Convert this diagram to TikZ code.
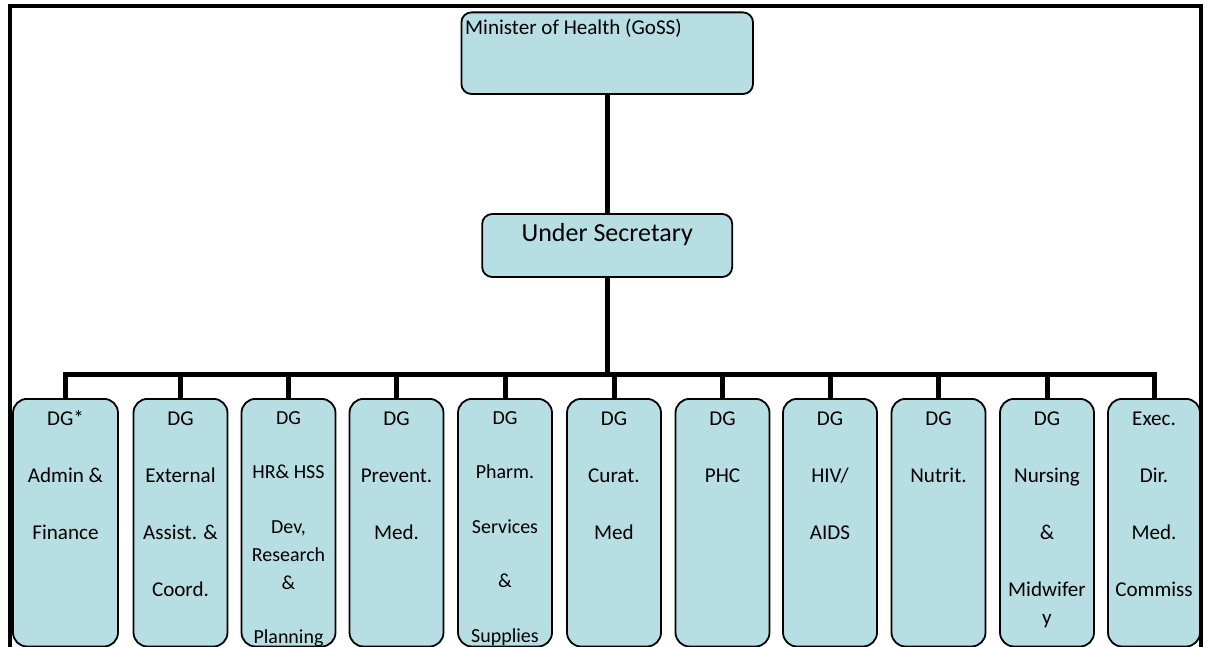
\documentclass[tikz,border=0pt]{standalone}
\usepackage{fontspec}
\setmainfont{Carlito}
\usepackage{xcolor}
\definecolor{orgFill}{HTML}{B7DEE2}
\tikzset{
  orgBox/.style={draw=black, fill=orgFill, line width=0.045cm, rounded corners=0.25cm, inner sep=0pt},
  dgBox/.style={orgBox, rounded corners=0.35cm, anchor=north, minimum width=2.35cm, font=\fontsize{15pt}{0.7cm}\selectfont},
  smallText/.style={font=\fontsize{14.2pt}{0.7cm}\selectfont},
  linkLine/.style={line width=0.125cm},
}

\begin{document}
\begin{tikzpicture}
  \useasboundingbox (0cm,0cm) rectangle (30.175cm,-16.175cm);
  \clip (0cm,0cm) rectangle (30.175cm,-16.175cm);
  % top levels
  \node[orgBox, minimum width=7.29cm, minimum height=2.04cm] (moh) at (15.18cm,-1.33cm) {\parbox[c][2.04cm][t]{7.1cm}{\fontsize{15pt}{18pt}\selectfont\rule{0pt}{0.5625cm}Minister of Health (GoSS)}};
  \node[orgBox, minimum width=6.25cm, minimum height=1.575cm] (us) at (15.18cm,-6.1375cm) {\parbox[c][1.575cm][t]{6cm}{\centering\fontsize{18.5pt}{22pt}\selectfont\rule{0pt}{0.6875cm}Under Secretary}};
  \coordinate (bar) at (15.18cm,-9.35cm);
  % directorates
  \node[dgBox, minimum width=2.625cm] (dgAdmin) at (1.6375cm,-9.95cm) {\parbox[c][6.19cm][t]{2.2cm}{\centering\rule{0pt}{0.66cm}DG*\\[0.725cm] Admin \&\\[0.725cm] Finance}};
  \node[dgBox] (dgExternal) at (4.5125cm,-9.95cm) {\parbox[c][6.19cm][t]{2.2cm}{\centering\rule{0pt}{0.66cm}DG\\[0.725cm] External\\[0.725cm] Assist. \&\\[0.725cm] Coord.}};
  \node[dgBox, smallText] (dgHR) at (7.2125cm,-9.95cm) {\parbox[c][6.19cm][t]{2.2cm}{\centering\rule{0pt}{0.63cm}DG\\[0.665cm] HR\& HSS\\[0.665cm] Dev,\\ Research\\ \&\\[0.665cm] Planning}};
  \node[dgBox] (dgPrevent) at (9.9125cm,-9.95cm) {\parbox[c][6.19cm][t]{2.2cm}{\centering\rule{0pt}{0.66cm}DG\\[0.725cm] Prevent.\\[0.725cm] Med.}};
  \node[dgBox, smallText] (dgPharm) at (12.625cm,-9.95cm) {\parbox[c][6.19cm][t]{2.2cm}{\centering\rule{0pt}{0.63cm}DG\\[0.665cm] Pharm.\\[0.665cm] Services\\[0.665cm] \&\\[0.665cm] Supplies}};
  \node[dgBox] (dgCurat) at (15.35cm,-9.95cm) {\parbox[c][6.19cm][t]{2.2cm}{\centering\rule{0pt}{0.66cm}DG\\[0.725cm] Curat.\\[0.725cm] Med}};
  \node[dgBox] (dgPHC) at (18.0625cm,-9.95cm) {\parbox[c][6.19cm][t]{2.2cm}{\centering\rule{0pt}{0.66cm}DG\\[0.725cm] PHC}};
  \node[dgBox] (dgHIV) at (20.75cm,-9.95cm) {\parbox[c][6.19cm][t]{2.2cm}{\centering\rule{0pt}{0.66cm}DG\\[0.725cm] HIV/\\[0.725cm] AIDS}};
  \node[dgBox] (dgNutrit) at (23.4625cm,-9.95cm) {\parbox[c][6.19cm][t]{2.2cm}{\centering\rule{0pt}{0.66cm}DG\\[0.725cm] Nutrit.}};
  \node[dgBox] (dgNursing) at (26.175cm,-9.95cm) {\parbox[c][6.19cm][t]{2.2cm}{\centering\rule{0pt}{0.66cm}DG\\[0.725cm] Nursing\\[0.725cm] \&\\[0.725cm] Midwifer\\ y}};
  \node[dgBox, minimum width=2.3cm] (dgExec) at (28.85cm,-9.95cm) {\parbox[c][6.19cm][t]{2.2cm}{\centering\rule{0pt}{0.66cm}Exec.\\[0.725cm] Dir.\\[0.725cm] Med.\\[0.725cm] Commiss}};
  % links
  \draw[linkLine] (moh) -- (us);
  \draw[linkLine] (us) -- (bar);
  \draw[linkLine] (bar) -| (dgAdmin);
  \draw[linkLine] (bar) -| (dgExternal);
  \draw[linkLine] (bar) -| (dgHR);
  \draw[linkLine] (bar) -| (dgPrevent);
  \draw[linkLine] (bar) -| (dgPharm);
  \draw[linkLine] (bar) -| (dgCurat);
  \draw[linkLine] (bar) -| (dgPHC);
  \draw[linkLine] (bar) -| (dgHIV);
  \draw[linkLine] (bar) -| (dgNutrit);
  \draw[linkLine] (bar) -| (dgNursing);
  \draw[linkLine] (bar) -| (dgExec);
  % frame
  \draw[line width=0.1cm] (0.2375cm,-17cm) -- (0.2375cm,-0.1625cm) -- (30.025cm,-0.1625cm) -- (30.025cm,-17cm);
\end{tikzpicture}
\end{document}
